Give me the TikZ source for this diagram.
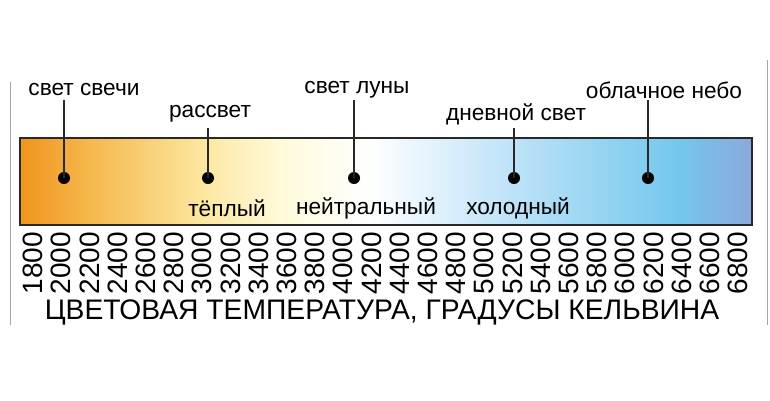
\documentclass[tikz,border=0pt]{standalone}
\usepackage{fontspec}
\setmainfont{Liberation Sans}
\usetikzlibrary{positioning}
\definecolor{bar_line}{RGB}{40,40,40}
\definecolor{c0}{RGB}{240,148,30}
\definecolor{c1}{RGB}{245,184,77}
\definecolor{c2}{RGB}{252,230,158}
\definecolor{c3}{RGB}{255,250,217}
\definecolor{c4}{RGB}{255,255,255}
\definecolor{c5}{RGB}{204,232,250}
\definecolor{c6}{RGB}{115,199,237}
\definecolor{c7}{RGB}{140,168,219}
\tikzset{
  lbl/.style={inner sep=0pt,font=\fontsize{17}{17}\selectfont},
  tick/.style={rotate=90,inner sep=0pt,font=\fontsize{21}{21}\selectfont},
  dot/.style={circle,fill=black,inner sep=0pt,minimum size=9pt},
  pin/.style={line width=1.2pt,bar_line}}
\begin{document}
\begin{tikzpicture}[x=0.75pt,y=-0.75pt]
  \useasboundingbox (0,0) rectangle (770,400);
  % frame lines
  \draw[gray!70,line width=0.6pt] (10,82) -- (10,325);
  \draw[gray!70,line width=0.6pt] (767,60) -- (767,325);
  % bar
  \foreach \xa/\xb/\ca/\cb in {20/90/c0/c1, 90/200/c1/c2, 200/280/c2/c3,
      280/370/c3/c4, 370/480/c4/c5, 480/680/c5/c6, 680/752/c6/c7}
    \shade[left color=\ca,right color=\cb] (\xa-0.5,138) rectangle (\xb+0.5,225);
  \draw[bar_line,line width=1.5pt] (20,138) rectangle (752,225);
  % labels and pins
  \node[lbl] (candle) at (84,90) {свет свечи};
  \node[lbl] (dawn) at (210,114) {рассвет};
  \node[lbl] (moon) at (357,90) {свет луны};
  \node[lbl] (day) at (516,114) {дневной свет};
  \node[lbl] (cloud) at (664,90) {облачное небо};
  \node[dot] (d1) at (64,178) {};
  \node[dot] (d2) at (208,178) {};
  \node[dot] (d3) at (354,178) {};
  \node[dot] (d4) at (514,178) {};
  \node[dot] (d5) at (648,178) {};
  \coordinate (t1) at (64,100);
  \coordinate (t2) at (208,128);
  \coordinate (t3) at (354,100);
  \coordinate (t4) at (514,128);
  \coordinate (t5) at (648,100);
  \foreach \i in {1,...,5}
    \draw[pin] (t\i) -- (d\i.center);
  \node[lbl] (warm) at (227,208) {тёплый};
  \node[lbl] (neutral) at (366,208) {нейтральный};
  \node[lbl] (cold) at (518,208) {холодный};
  % scale
  \foreach \k in {0,...,25}{
    \pgfmathtruncatemacro{\val}{1800+200*\k}
    \node[tick] (k\k) at ({33+28.2*\k},263) {\val};
  }
  \node[inner sep=0pt,font=\fontsize{21.2}{21.2}\selectfont] (title) at (382,312)
    {ЦВЕТОВАЯ ТЕМПЕРАТУРА, ГРАДУСЫ КЕЛЬВИНА};
\end{tikzpicture}
\end{document}
